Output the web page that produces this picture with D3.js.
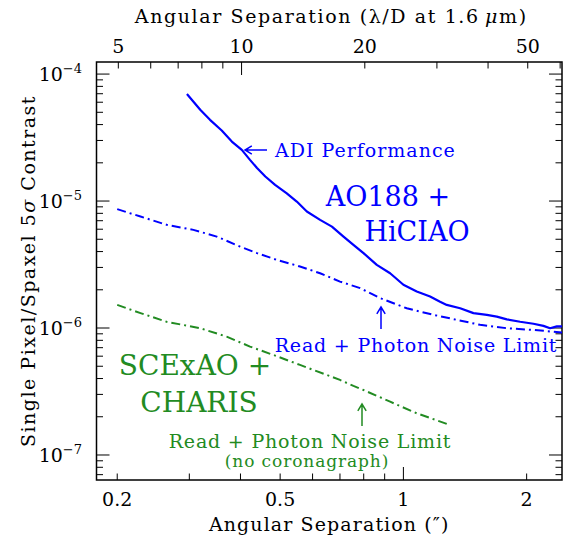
<!DOCTYPE html>
<html>
<head>
<meta charset="utf-8">
<script src="https://cdn.jsdelivr.net/npm/d3@7"></script>
<style>
  body { margin: 0; background: #fff; }
  text { font-family: "DejaVu Serif", serif; }
</style>
</head>
<body>
<svg id="chart" width="563" height="537"></svg>
<script>
// ADI performance, AO188 + HiCIAO (solid)
var adiSep = [0.296, 0.319, 0.337, 0.360, 0.381, 0.403, 0.422, 0.439, 0.460, 0.486, 0.519, 0.549,
  0.581, 0.626, 0.669, 0.714, 0.755, 0.799, 0.861, 0.928, 1.0, 1.078, 1.162, 1.229, 1.276, 1.376,
  1.483, 1.599, 1.691, 1.789, 1.928, 2.078, 2.198, 2.282, 2.370, 2.455];
var adiContrast = [6.96e-5, 5.23e-5, 4.36e-5, 3.59e-5, 2.94e-5, 2.53e-5, 2.11e-5, 1.82e-5, 1.56e-5,
  1.34e-5, 1.15e-5, 9.91e-6, 8.27e-6, 7.11e-6, 6.29e-6, 5.25e-6, 4.52e-6, 3.89e-6, 3.14e-6, 2.70e-6,
  2.19e-6, 1.94e-6, 1.77e-6, 1.61e-6, 1.52e-6, 1.43e-6, 1.31e-6, 1.27e-6, 1.23e-6, 1.17e-6, 1.12e-6,
  1.08e-6, 1.04e-6, 0.996e-6, 1.03e-6, 1.03e-6];

// read + photon noise limit, AO188 + HiCIAO (dash-dot)
var hiciaoSep = [0.200, 0.228, 0.264, 0.307, 0.350, 0.399, 0.439, 0.491, 0.559, 0.626, 0.700, 0.784,
  0.877, 1.019, 1.184, 1.350, 1.539, 1.789, 2.078, 2.455];
var hiciaoContrast = [8.63e-6, 7.55e-6, 6.50e-6, 5.93e-6, 5.25e-6, 4.38e-6, 3.89e-6, 3.44e-6, 3.05e-6,
  2.70e-6, 2.32e-6, 2.06e-6, 1.72e-6, 1.43e-6, 1.27e-6, 1.16e-6, 1.06e-6, 0.996e-6, 0.966e-6, 0.920e-6];

// read + photon noise limit, SCExAO + CHARIS, no coronagraph (dash-dot)
var charisSep = [0.200, 0.228, 0.264, 0.319, 0.370, 0.422, 0.481, 0.559, 0.650, 0.700, 0.755, 0.799,
  0.928, 1.078, 1.300];
var charisContrast = [1.52e-6, 1.31e-6, 1.12e-6, 9.96e-7, 8.55e-7, 7.14e-7, 6.14e-7, 5.12e-7, 4.27e-7,
  3.90e-7, 3.50e-7, 3.25e-7, 2.63e-7, 2.13e-7, 1.72e-7];

// axis ticks
var sepLabels = [0.2, 0.5, 1, 2];
var lodLabels = [5, 10, 20, 50];
var contrastLabels = [-4, -5, -6, -7];

var lambdaOverD = 1.6e-6 / 8.2 * 206265; // arcsec per lambda/D at 1.6 um

var blue = '#0000ff';
var green = '#228b22';

var pLeft = 96.5, pRight = 562, pTop = 62, pBottom = 480;

var svg = d3.select('#chart');

var x = d3.scaleLog().domain([0.178, 2.44]).range([pLeft, pRight]);
var xTop = d3.scaleLog().domain([0.178 / lambdaOverD, 2.44 / lambdaOverD]).range([pLeft, pRight]);
var y = d3.scaleLog().domain([Math.pow(10, -7.197), Math.pow(10, -3.905)]).range([pBottom, pTop]);

svg.append('clipPath').attr('id', 'clip')
  .append('rect').attr('x', pLeft).attr('y', pTop).attr('width', pRight - pLeft).attr('height', pBottom - pTop);

// minor / major tick sets
function logTicks(scale) {
  var d = scale.domain(), out = [];
  for (var e = Math.floor(Math.log10(d[0])); e <= Math.ceil(Math.log10(d[1])); e++) {
    for (var k = 1; k <= 9; k++) {
      var v = k * Math.pow(10, e);
      if (v >= d[0] && v <= d[1]) out.push({v: v, major: k === 1});
    }
  }
  return out;
}

var tickG = svg.append('g').attr('stroke', '#000').attr('stroke-width', 1);

logTicks(x).forEach(function(t) {
  var len = t.major ? 13 : 6.5;
  tickG.append('line').attr('x1', x(t.v)).attr('x2', x(t.v)).attr('y1', pBottom).attr('y2', pBottom - len);
});
logTicks(xTop).forEach(function(t) {
  var len = t.major ? 13 : 6.5;
  tickG.append('line').attr('x1', xTop(t.v)).attr('x2', xTop(t.v)).attr('y1', pTop).attr('y2', pTop + len);
});
logTicks(y).forEach(function(t) {
  var len = t.major ? 13 : 6.5;
  tickG.append('line').attr('y1', y(t.v)).attr('y2', y(t.v)).attr('x1', pLeft).attr('x2', pLeft + len);
  tickG.append('line').attr('y1', y(t.v)).attr('y2', y(t.v)).attr('x1', pRight).attr('x2', pRight - len);
});

svg.append('rect')
  .attr('x', pLeft).attr('y', pTop).attr('width', pRight - pLeft).attr('height', pBottom - pTop)
  .attr('fill', 'none').attr('stroke', '#000').attr('stroke-width', 1.5);

// tick labels
svg.append('g').selectAll('text').data(sepLabels).enter().append('text')
  .attr('x', d => x(d)).attr('y', 506)
  .attr('text-anchor', 'middle').style('font-size', '19px')
  .text(d => d);

svg.append('g').selectAll('text').data(lodLabels).enter().append('text')
  .attr('x', d => xTop(d)).attr('y', 53)
  .attr('text-anchor', 'middle').style('font-size', '19px')
  .text(d => d);

var yl = svg.append('g').selectAll('text').data(contrastLabels).enter().append('text')
  .attr('x', 82).attr('y', d => y(Math.pow(10, d)) + 7)
  .attr('text-anchor', 'end').style('font-size', '19px');
yl.append('tspan').text('10');
yl.append('tspan').attr('dy', -8).style('font-size', '13px').text(d => '\u2212' + (-d));

// axis titles
svg.append('text').attr('x', (pLeft + pRight) / 2 + 2).attr('y', 23)
  .attr('text-anchor', 'middle').style('font-size', '19px').style('letter-spacing', '1.6px')
  .html('Angular Separation (\u03bb/D at 1.6\u2009<tspan font-style="italic">\u03bc</tspan>m)');

svg.append('text').attr('x', (pLeft + pRight) / 2).attr('y', 531)
  .attr('text-anchor', 'middle').style('font-size', '19px').style('letter-spacing', '1.1px')
  .text('Angular Separation (\u2033)');

svg.append('text')
  .attr('transform', 'translate(35,' + ((pTop + pBottom) / 2) + ') rotate(-90)')
  .attr('text-anchor', 'middle').style('font-size', '19px').style('letter-spacing', '1.5px')
  .html('Single Pixel/Spaxel 5<tspan font-style="italic">\u03c3</tspan> Contrast');

// curves
var plot = svg.append('g').attr('clip-path', 'url(#clip)');
function series(xs, ys) { return xs.map((d, i) => [d, ys[i]]); }
var line = d3.line().x(d => x(d[0])).y(d => y(d[1]));

plot.append('path').datum(series(adiSep, adiContrast))
  .attr('d', line).attr('fill', 'none').attr('stroke', blue).attr('stroke-width', 2.2)
  .attr('stroke-linejoin', 'round');
plot.append('path').datum(series(hiciaoSep, hiciaoContrast))
  .attr('d', line).attr('fill', 'none').attr('stroke', blue).attr('stroke-width', 2)
  .attr('stroke-dasharray', '9,4,2,4');
plot.append('path').datum(series(charisSep, charisContrast))
  .attr('d', line).attr('fill', 'none').attr('stroke', green).attr('stroke-width', 2)
  .attr('stroke-dasharray', '9,4,2,4');

// annotations
function arrow(g, x1, y1, x2, y2, color) {
  var a = Math.atan2(y2 - y1, x2 - x1), h = 8, w = 0.55;
  g.append('path')
    .attr('d', 'M' + x1 + ',' + y1 + 'L' + x2 + ',' + y2 +
      'M' + (x2 - h * Math.cos(a - w)) + ',' + (y2 - h * Math.sin(a - w)) + 'L' + x2 + ',' + y2 +
      'L' + (x2 - h * Math.cos(a + w)) + ',' + (y2 - h * Math.sin(a + w)))
    .attr('fill', 'none').attr('stroke', color).attr('stroke-width', 1.5);
}
var ann = svg.append('g');

arrow(ann, 267, 150, 245, 150, blue);
ann.append('text').attr('x', 275).attr('y', 157).attr('fill', blue)
  .style('font-size', '19px').style('letter-spacing', '1px')
  .text('ADI Performance');

ann.append('text').attr('x', 388).attr('y', 206).attr('text-anchor', 'middle').attr('fill', blue)
  .style('font-size', '27px').text('AO188 +');
ann.append('text').attr('x', 417).attr('y', 241).attr('text-anchor', 'middle').attr('fill', blue)
  .style('font-size', '27px').text('HiCIAO');

arrow(ann, 381, 329, 381, 307, blue);
ann.append('text').attr('x', 416).attr('y', 352).attr('text-anchor', 'middle').attr('fill', blue)
  .style('font-size', '19px').style('letter-spacing', '0.8px').text('Read + Photon Noise Limit');

ann.append('text').attr('x', 195).attr('y', 375).attr('text-anchor', 'middle').attr('fill', green)
  .style('font-size', '28px').text('SCExAO +');
ann.append('text').attr('x', 199).attr('y', 412).attr('text-anchor', 'middle').attr('fill', green)
  .style('font-size', '28px').text('CHARIS');

arrow(ann, 362, 426, 362, 404, green);
ann.append('text').attr('x', 310).attr('y', 448).attr('text-anchor', 'middle').attr('fill', green)
  .style('font-size', '19px').style('letter-spacing', '0.8px').text('Read + Photon Noise Limit');
ann.append('text').attr('x', 307).attr('y', 467).attr('text-anchor', 'middle').attr('fill', green)
  .style('font-size', '17px').style('letter-spacing', '0.9px').text('(no coronagraph)');
</script>
</body>
</html>
